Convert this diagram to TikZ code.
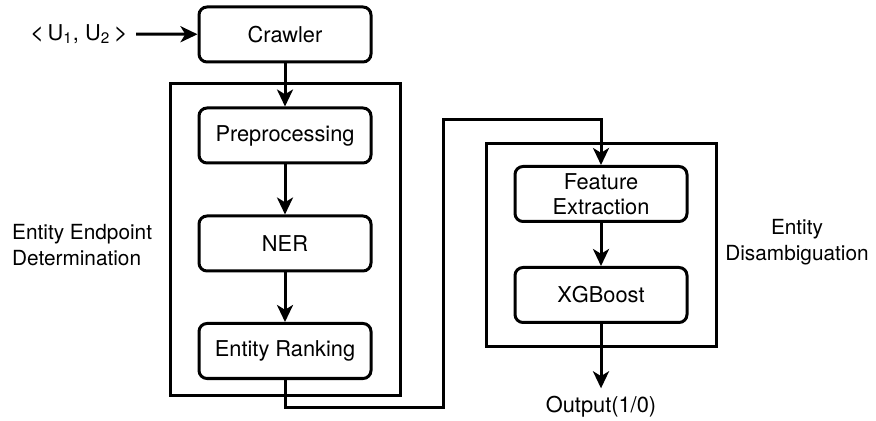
\documentclass[tikz,border=0pt]{standalone}
\usepackage{fontspec}
\setmainfont{TeX Gyre Heros}
\usetikzlibrary{arrows.meta}

\begin{document}
\begin{tikzpicture}[x=0.5pt,y=-0.5pt,line width=1.5pt]
   \tikzset{box/.style={draw, rounded corners=4pt, minimum width=86pt, minimum height=27.5pt, align=center, font=\fontsize{10.9}{12.5}\selectfont},
            frame/.style={draw, minimum width=115pt},
            lbl/.style={font=\fontsize{10.4}{13}\selectfont},
            arr/.style={-{Stealth[length=8.5pt,width=8pt,inset=2.4pt]}}};
\useasboundingbox (0,0) rectangle (876,421);

% left part
\node[frame, minimum height=155.5pt] (left) at (285,239.5) {};
\node[box] (crawl) at (285,34.5) {Crawler};
\node[box] (pre) at (285,135.5) {Preprocessing};
\node[box] (ner) at (285,243.5) {NER};
\node[box] (rank) at (285,351) {Entity Ranking};
\node[box, draw=none, minimum width=0pt] (in) at (79,34) {{\large<}\,U\textsubscript{1}, U\textsubscript{2}\,{\large>}};
\node[lbl, anchor=west, align=left] (ldesc) at (4,245) {Entity Endpoint\\Determination};

% right part
\node[frame, minimum height=101.5pt] (right) at (601,245.5) {};
\node[box] (feat) at (601,194) {Feature\\Extraction};
\node[box] (xgb) at (601,295) {XGBoost};
\node[lbl, align=center] (rdesc) at (797,242) {Entity\\Disambiguation};
\node[box, draw=none, minimum height=0pt] (out) at (601,407) {Output(1/0)};

\draw[arr] (in) -- (crawl);
\draw[arr] (crawl) -- (pre);
\draw[arr] (pre) -- (ner);
\draw[arr] (ner) -- (rank);
\draw[arr] (rank.south) |- (443,407) |- (601,120) -- (feat.north);
\draw[arr] (feat) -- (xgb);
\draw[arr] (xgb) -- (out);

\end{tikzpicture}
\end{document}
